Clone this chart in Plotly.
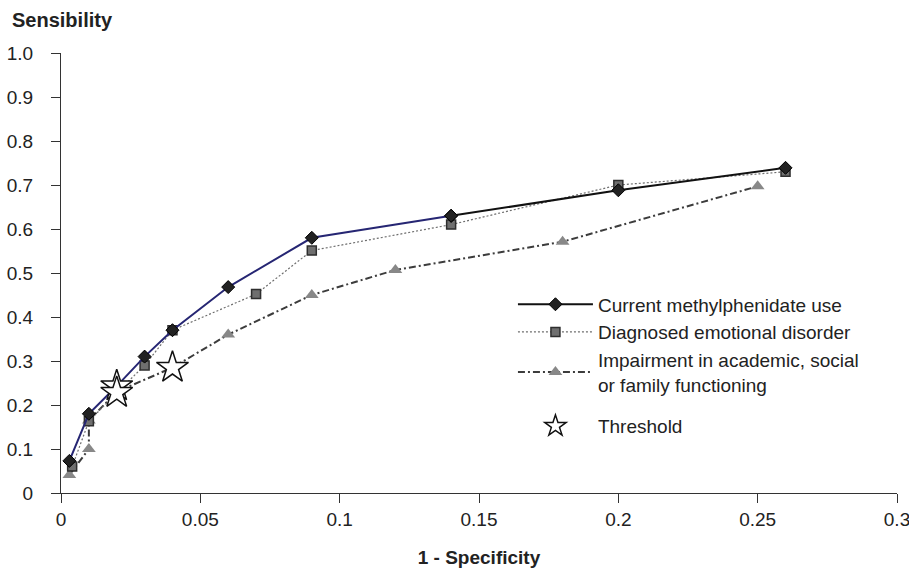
import plotly.graph_objects as go

# 1 - Specificity / Sensibility values
mph_x = [0.003, 0.01, 0.02, 0.03, 0.04, 0.06, 0.09, 0.14, 0.20, 0.26]
mph_y = [0.073, 0.18, 0.243, 0.31, 0.37, 0.468, 0.58, 0.63, 0.688, 0.739]

emo_x = [0.004, 0.01, 0.02, 0.03, 0.04, 0.07, 0.09, 0.14, 0.20, 0.26]
emo_y = [0.06, 0.163, 0.228, 0.29, 0.37, 0.452, 0.551, 0.61, 0.70, 0.73]

imp_x = [0.003, 0.01, 0.01, 0.02, 0.04, 0.06, 0.09, 0.12, 0.18, 0.25]
imp_y = [0.041, 0.10, 0.165, 0.23, 0.285, 0.36, 0.45, 0.507, 0.571, 0.697]

thr_x = [0.02, 0.02, 0.04]
thr_y = [0.243, 0.228, 0.285]

x_ticks = [0, 0.05, 0.1, 0.15, 0.2, 0.25, 0.3]
x_tick_labels = ["0", "0.05", "0.1", "0.15", "0.2", "0.25", "0.3"]
y_ticks = [0, 0.1, 0.2, 0.3, 0.4, 0.5, 0.6, 0.7, 0.8, 0.9, 1.0]
y_tick_labels = ["0", "0.1", "0.2", "0.3", "0.4", "0.5", "0.6", "0.7", "0.8", "0.9", "1.0"]

names = ["Current methylphenidate use",
         "Diagnosed emotional disorder",
         "Impairment in academic, social<br>or family functioning",
         "Threshold"]

split = 7  # index where the methylphenidate curve turns from navy to black

FONT = "Liberation Sans, Arial, sans-serif"

fig = go.Figure()

fig.add_trace(go.Scatter(
    x=imp_x, y=imp_y, mode="lines+markers", name=names[2], legendrank=3,
    legendgroup="a",
    line=dict(color="#3c3c3c", width=2, dash="7px,3px,2px,3px"),
    marker=dict(symbol="triangle-up", size=12, color="#888888",
                line=dict(width=0))))

fig.add_trace(go.Scatter(
    x=emo_x, y=emo_y, mode="lines+markers", name=names[1], legendrank=2,
    legendgroup="a",
    line=dict(color="#6e6e6e", width=1.2, dash="2px,2px"),
    marker=dict(symbol="square", size=9, color="#6f6f6f",
                line=dict(width=1.5, color="#2e2e2e"))))

fig.add_trace(go.Scatter(
    x=mph_x[:split + 1], y=mph_y[:split + 1], mode="lines+markers",
    name=names[0], showlegend=False, legendgroup="a",
    line=dict(color="#262673", width=2),
    marker=dict(symbol="diamond", size=10, color="#222222",
                line=dict(width=1, color="#000000"))))

fig.add_trace(go.Scatter(
    x=mph_x[split:], y=mph_y[split:], mode="lines+markers",
    name=names[0], legendrank=1, legendgroup="a",
    line=dict(color="#111111", width=2),
    marker=dict(symbol="diamond", size=10, color="#222222",
                line=dict(width=1, color="#000000"))))

fig.add_trace(go.Scatter(
    x=thr_x, y=thr_y, mode="markers", name=names[3], legendrank=4,
    legendgroup="b",
    marker=dict(symbol="star", size=24, color="white",
                line=dict(width=1.5, color="#111111"))))

fig.update_layout(
    width=909, height=575,
    margin=dict(l=61, r=12, t=53, b=82),
    paper_bgcolor="white", plot_bgcolor="white",
    font=dict(family=FONT, size=19, color="#222222"),
    legend=dict(
        x=0.5406, y=0.4718, xanchor="left", yanchor="top",
        bgcolor="rgba(0,0,0,0)", font=dict(size=19, color="#222222"),
        traceorder="grouped", tracegroupgap=14, itemwidth=75,
        itemsizing="trace"),
    xaxis=dict(
        range=[0, 0.3], tickvals=x_ticks, ticktext=x_tick_labels,
        showgrid=False, zeroline=False, showline=True, linecolor="#333333",
        linewidth=1.2, ticks="outside", ticklen=9, tickcolor="#333333",
        ticklabelstandoff=0, automargin=False, ticklabeloverflow="allow",
        title=dict(text="<b>1 - Specificity</b>", standoff=21,
                   font=dict(size=19, color="#222222"))),
    yaxis=dict(
        range=[0, 1.0], tickvals=y_ticks, ticktext=y_tick_labels,
        showgrid=False, zeroline=False, showline=True, linecolor="#333333",
        linewidth=1.2, ticks="outside", ticklen=9, tickcolor="#333333",
        ticklabelstandoff=14, automargin=False, ticklabeloverflow="allow"),
    annotations=[dict(
        text="<b>Sensibility</b>", xref="paper", yref="paper",
        x=-51 / 836, y=1 + 33 / 440, xanchor="left", yanchor="middle",
        showarrow=False, font=dict(size=20, color="#222222"))],
)

# remove the default page margin so the 909x575 figure fills the window exactly
fig.write_html(
    "out.html",
    config={"displayModeBar": False},
    post_script="document.body.style.margin='0';document.body.style.overflow='hidden';",
)
